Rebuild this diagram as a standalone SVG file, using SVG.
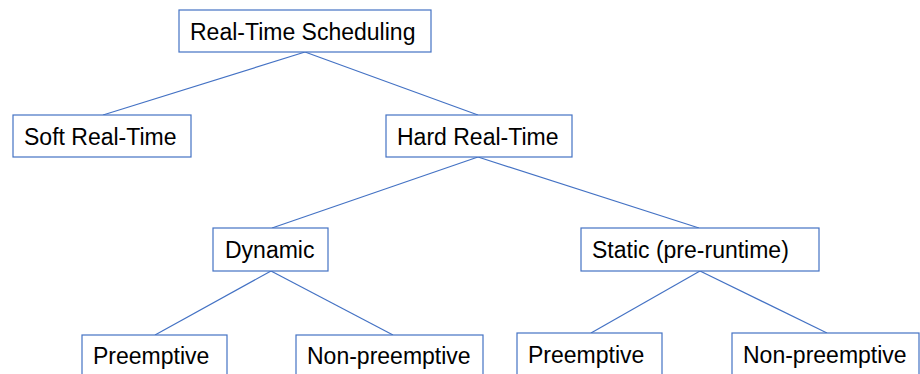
<svg xmlns="http://www.w3.org/2000/svg" width="920" height="374" viewBox="0 0 920 374">
<style>
.box{fill:#ffffff;stroke:#4472C4;stroke-width:1.2}
.lbl{font-family:"Liberation Sans",Arial,sans-serif;font-size:23px;fill:#000000}
.conn line{stroke:#4472C4;stroke-width:1.2}
</style>
<rect width="920" height="374" fill="#ffffff"/>
<g id="connectors" class="conn">
<line x1="305" y1="52" x2="103" y2="115"/>
<line x1="305" y1="52" x2="478" y2="115"/>
<line x1="478" y1="157" x2="272" y2="228"/>
<line x1="478" y1="157" x2="699" y2="228"/>
<line x1="271" y1="271" x2="155" y2="335"/>
<line x1="271" y1="271" x2="393" y2="335"/>
<line x1="700" y1="271" x2="591" y2="333"/>
<line x1="700" y1="271" x2="827" y2="333"/>
</g>
<g id="root"><rect class="box" x="179" y="10" width="252" height="42"/><text class="lbl" x="190" y="40">Real-Time Scheduling</text></g>
<g id="soft"><rect class="box" x="13" y="115" width="178" height="42"/><text class="lbl" x="24" y="145">Soft Real-Time</text></g>
<g id="hard"><rect class="box" x="386" y="115" width="186" height="42"/><text class="lbl" x="397" y="145">Hard Real-Time</text></g>
<g id="dynamic"><rect class="box" x="213" y="228" width="115" height="43"/><text class="lbl" x="225" y="258">Dynamic</text></g>
<g id="static"><rect class="box" x="581" y="228" width="238" height="43"/><text class="lbl" x="592" y="258">Static (pre-runtime)</text></g>
<g id="preemptive1"><rect class="box" x="82" y="335" width="145" height="43"/><text class="lbl" x="93" y="364">Preemptive</text></g>
<g id="nonpreemptive1"><rect class="box" x="296" y="335" width="187" height="43"/><text class="lbl" x="307" y="364">Non-preemptive</text></g>
<g id="preemptive2"><rect class="box" x="517" y="333" width="145" height="43"/><text class="lbl" x="528" y="363">Preemptive</text></g>
<g id="nonpreemptive2"><rect class="box" x="732" y="333" width="187" height="43"/><text class="lbl" x="743" y="363">Non-preemptive</text></g>
</svg>
